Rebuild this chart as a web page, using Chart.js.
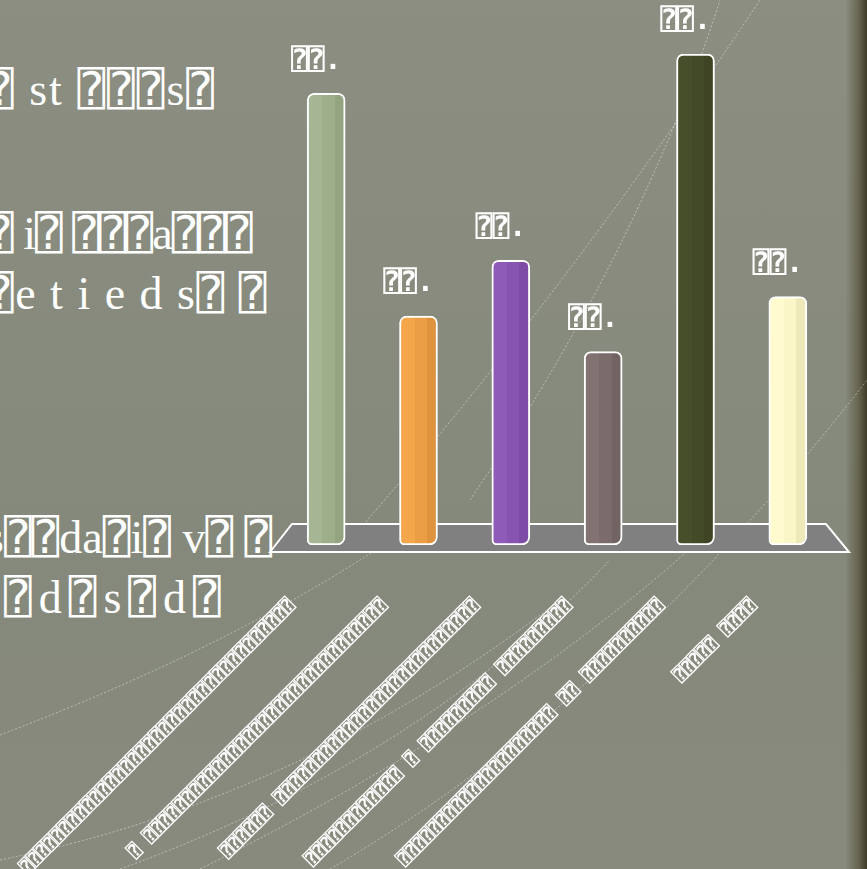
<!DOCTYPE html>
<html>
<head>
<meta charset="utf-8">
<script src="https://cdn.jsdelivr.net/npm/chart.js@4.4.1/dist/chart.umd.min.js"></script>
<style>
  html, body { margin: 0; padding: 0; }
  body {
    width: 867px; height: 869px; overflow: hidden; position: relative;
    background:
      linear-gradient(to right, rgba(0,0,0,0) 97.5%, rgba(80,76,50,0.6) 99%, rgba(55,52,32,0.9) 100%),
      linear-gradient(to bottom, #8b8e81 0%, #85897b 60%, #878a7d 100%);
  }
  .txt {
    position: absolute; left: -14px; color: #fff; white-space: pre;
    font-family: "Liberation Serif", "DejaVu Sans Mono", serif; font-size: 46px;
  }
  #wrap { position: absolute; left: 0; top: 0; width: 867px; height: 869px; }
</style>
</head>
<body>
<div class="txt" style="top:62px;letter-spacing:2px">⍰ st ⍰⍰⍰s⍰</div>
<div class="txt" style="top:206px;letter-spacing:-1px">⍰ i⍰ ⍰⍰⍰a⍰⍰⍰</div>
<div class="txt" style="top:266px;letter-spacing:1.5px">⍰e t i e d s⍰ ⍰</div>
<div class="txt" style="top:510px">s⍰⍰da⍰i⍰ v⍰ ⍰</div>
<div class="txt" style="top:570px;left:4px;letter-spacing:7px">⍰d⍰s⍰d⍰</div>
<div id="wrap"><canvas id="barChart" width="867" height="869"></canvas></div>
<script>
const categories = [
  "⍰⍰⍰⍰⍰⍰⍰⍰⍰⍰⍰⍰⍰⍰⍰⍰⍰⍰⍰⍰⍰⍰⍰⍰⍰⍰⍰⍰⍰⍰⍰⍰⍰⍰⍰",
  "⍰ ⍰⍰⍰⍰⍰⍰⍰⍰⍰⍰⍰⍰⍰⍰⍰⍰⍰⍰⍰⍰⍰⍰⍰⍰⍰⍰⍰⍰⍰⍰⍰",
  "⍰⍰⍰⍰⍰⍰ ⍰⍰⍰⍰⍰⍰⍰⍰⍰⍰⍰⍰⍰⍰⍰⍰⍰⍰⍰⍰⍰⍰⍰⍰⍰⍰",
  "⍰⍰⍰⍰⍰⍰⍰⍰⍰⍰⍰⍰ ⍰ ⍰⍰⍰⍰⍰⍰⍰⍰⍰ ⍰⍰⍰⍰⍰⍰⍰⍰⍰",
  "⍰⍰⍰⍰⍰⍰⍰⍰⍰⍰⍰⍰⍰⍰⍰⍰⍰⍰⍰⍰ ⍰⍰ ⍰⍰⍰⍰⍰⍰⍰⍰⍰⍰",
  "⍰⍰⍰⍰⍰ ⍰⍰⍰⍰"
];
const values = [46, 23.3, 29, 19.7, 50, 25.3];
const valueLabels = ["⍰⍰.", "⍰⍰.", "⍰⍰.", "⍰⍰.", "⍰⍰.", "⍰⍰."];
const barColors = [
  ["#a6b694", "#9eae8b", "#94a480"],
  ["#f4a64a", "#eb9e44", "#df933c"],
  ["#8e5bb8", "#8754b0", "#7e4ca6"],
  ["#837272", "#7b6b6b", "#736464"],
  ["#474e2a", "#434a27", "#3f4524"],
  ["#fffbcf", "#fbf6c8", "#eee9b8"]
];

const barWidth = 38;

function barFill(c) {
  const cols = barColors[c.dataIndex];
  const x = c.chart.scales.x.getPixelForValue(c.dataIndex);
  if (!isFinite(x)) return cols[1];
  const g = c.chart.ctx.createLinearGradient(x - barWidth / 2, 0, x + barWidth / 2, 0);
  g.addColorStop(0, cols[0]); g.addColorStop(0.4, cols[0]);
  g.addColorStop(0.4, cols[1]); g.addColorStop(0.72, cols[1]);
  g.addColorStop(0.72, cols[2]); g.addColorStop(1, cols[2]);
  return g;
}

// faint dotted swooshes of the slide background
const swooshes = [
  [[0, 735], [250, 640], [420, 520]],
  [[0, 860], [300, 800], [560, 600]],
  [[120, 869], [420, 760], [610, 560]],
  [[330, 869], [620, 700], [867, 380]],
  [[350, 540], [560, 300], [760, 0]],
  [[470, 500], [640, 250], [720, 0]],
  [[200, 869], [500, 720], [700, 540]]
];

const background = {
  id: "background",
  beforeDraw(chart) {
    const ctx = chart.ctx;
    ctx.save();
    ctx.strokeStyle = "rgba(255,255,255,0.45)";
    ctx.lineWidth = 1;
    ctx.setLineDash([2, 2]);
    swooshes.forEach((s) => {
      ctx.beginPath();
      ctx.moveTo(s[0][0], s[0][1]);
      ctx.quadraticCurveTo(s[1][0], s[1][1], s[2][0], s[2][1]);
      ctx.stroke();
    });
    ctx.restore();
  },
  beforeDatasetsDraw(chart) {
    // grey 3D floor under the bars
    const a = chart.chartArea;
    const ctx = chart.ctx;
    ctx.save();
    ctx.beginPath();
    ctx.moveTo(a.left - 10, a.bottom + 7);
    ctx.lineTo(a.left + 12, a.bottom - 21);
    ctx.lineTo(a.right - 8, a.bottom - 21);
    ctx.lineTo(a.right + 15, a.bottom + 7);
    ctx.closePath();
    ctx.fillStyle = "#808080";
    ctx.fill();
    ctx.strokeStyle = "#ffffff";
    ctx.lineWidth = 2;
    ctx.stroke();
    ctx.restore();
  },
  afterDatasetsDraw(chart) {
    const ctx = chart.ctx;
    ctx.save();
    ctx.fillStyle = "#ffffff";
    ctx.font = "bold 28px 'DejaVu Sans Mono', sans-serif";
    ctx.textAlign = "center";
    ctx.textBaseline = "middle";
    chart.getDatasetMeta(0).data.forEach((bar, i) => {
      ctx.fillText(valueLabels[i], bar.x - 10, bar.y - 32);
    });
    ctx.restore();
  }
};

new Chart(document.getElementById("barChart"), {
  type: "bar",
  data: {
    labels: categories,
    datasets: [
      {
        data: values,
        backgroundColor: barFill,
        borderColor: "#ffffff",
        borderWidth: 2,
        borderSkipped: false,
        borderRadius: { topLeft: 7, topRight: 7, bottomLeft: 5, bottomRight: 8 },
        barThickness: barWidth,
      },
    ],
  },
  options: {
    responsive: false,
    animation: false,
    layout: { padding: { left: 280, right: 33, top: 54, bottom: 0 } },
    plugins: {
      legend: { display: false },
      tooltip: { enabled: false },
    },
    scales: {
      x: {
        grid: { display: false },
        border: { display: false },
        ticks: {
          color: "#ffffff",
          font: { family: "DejaVu Sans Mono", size: 18, weight: "bold" },
          minRotation: 45,
          maxRotation: 45,
          autoSkip: false,
          labelOffset: -34,
          padding: 42,
        },
        afterFit: (s) => {
          s.height = 869 - 545;
          s.paddingLeft = 0;
          s.paddingRight = 0;
        },
      },
      y: { display: false, min: 0, max: 50 },
    },
  },
  plugins: [background],
});
</script>
</body>
</html>
